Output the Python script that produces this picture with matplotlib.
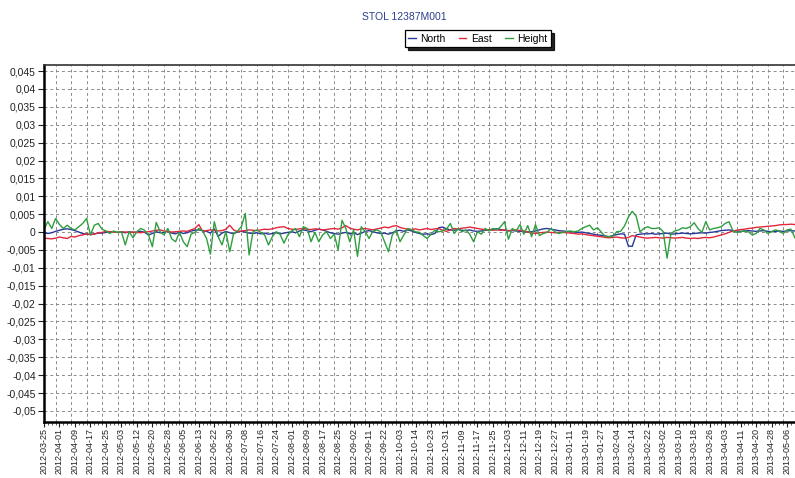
import numpy as np
import matplotlib
matplotlib.use("Agg")
import matplotlib.pyplot as plt
from matplotlib.ticker import FixedLocator, FixedFormatter, MultipleLocator, NullFormatter

# ---------------- data ----------------
title = "STOL 12387M001"
series_names = ["North", "East", "Height"]

date_labels = [
    "2012-03-25", "2012-04-01", "2012-04-09", "2012-04-17", "2012-04-25",
    "2012-05-03", "2012-05-12", "2012-05-20", "2012-05-28", "2012-06-05",
    "2012-06-13", "2012-06-22", "2012-06-30", "2012-07-08", "2012-07-16",
    "2012-07-24", "2012-08-01", "2012-08-09", "2012-08-17", "2012-08-25",
    "2012-09-02", "2012-09-11", "2012-09-22", "2012-10-03", "2012-10-14",
    "2012-10-23", "2012-10-31", "2012-11-09", "2012-11-17", "2012-11-25",
    "2012-12-03", "2012-12-11", "2012-12-19", "2012-12-27", "2013-01-11",
    "2013-01-19", "2013-01-27", "2013-02-04", "2013-02-14", "2013-02-22",
    "2013-03-02", "2013-03-10", "2013-03-18", "2013-03-26", "2013-04-03",
    "2013-04-11", "2013-04-20", "2013-04-28", "2013-05-06",
]

# values in millimetres (converted to metres below), one value every 2 categories
north_mm = [
    -0.2, -0.4, -0.2, 0.2, 0.5, 0.8, 0.9, 0.7, 0.4, 0.0, -0.4, -0.6, -0.7, -0.5, -0.3, -0.3,
    -0.1, 0.0, 0.1, -0.1, 0.0, -0.2, 0.1, -0.1, 0.0, 0.2, -0.1, -0.8, -0.4, 0.1, -0.2, -0.1,
    0.2, -0.3, -0.5, 0.0, -0.4, -0.2, 0.3, 0.5, 0.6, 0.4, 0.2, -0.3, 0.9, -1.2, -0.3, 0.2,
    -0.2, -0.5, 0.1,
    0.2, 0.0, -0.3, -0.4, -0.2, -0.5, -0.3, -0.6, -0.4, -0.2, -0.5, -0.3, -0.1, 0.1, -0.2,
    0.3, 0.6, 0.4, 0.1, 0.5, 0.8, 0.6, 0.2, -0.2, -0.4, -0.6, -0.3, -0.1, -0.5, -0.2, -0.7,
    -0.3, 0.2, 0.4, 0.1, -0.2, -0.4, -0.3, -0.6, -0.2, 0.3, 0.5, 0.2, 0.6, 0.3, -0.1, -0.4,
    -0.6, -0.5, -0.7, -0.4,
    1.2, 1.4, 0.9, 0.6, 0.5, 0.7, 0.5, 0.4, 0.6, 0.3, 0.2, 0.3, 0.5, 0.6, 0.8, 0.9, 0.7,
    0.5, 0.3, 0.4, 0.3, 0.2, 0.1, 0.0, 0.1, 0.3, 0.6, 0.9, 1.0, 0.8, 0.6, 0.4, 0.3, 0.2,
    0.1, 0.0, -0.1, 0.0, -0.2, -0.4, -0.6, -0.8, -0.9, -1.1, -1.3, -1.0, -0.7, -0.5, -0.6,
    -3.9,
    -4.0, -0.8, -0.6, -0.5, -0.5, -0.4, -0.6, -0.5, -0.4, -0.3, -0.6, -0.5, -0.4, -0.3,
    -0.4, -0.5, -0.4, -0.3, -0.2, -0.3, -0.1, 0.0, 0.2, 0.4, 0.5, 0.6, 0.4, 0.3, 0.2, 0.3,
    0.4, 0.3, 0.2, 0.3, 0.4, 0.2, 0.1, 0.2, 0.3, 0.2, 0.3, 0.4, 0.3, 0.2,
]

east_mm = [
    -1.7, -1.8, -1.9, -1.7, -1.4, -1.6, -1.8, -1.2, -1.4, -1.0, -0.8, -0.5, -0.7, -0.6,
    -0.2, -0.1, 0.2, 0.1, 0.0, -0.1, 0.1, 0.0, -0.1, 0.0, -0.1, -0.2, 0.0, 0.1, 0.3, 0.5,
    0.6, 0.3, 0.2, 0.0, 0.1, 0.2, 0.3, 0.2, 0.6, 1.0, 2.1, 0.2, 0.4, 0.6, 0.5, 0.3, 0.4,
    0.8, 1.9, 0.6, 0.1,
    0.3, 0.4, 0.6, 0.5, 0.4, 0.6, 0.8, 0.7, 0.9, 1.2, 1.4, 1.5, 1.0, 0.8, 0.7, 0.9, 1.0,
    0.8, 0.7, 0.9, 0.8, 0.6, 0.7, 0.9, 1.0, 0.8, 1.2, 1.8, 1.1, 0.8, 0.6, 0.9, 1.0, 0.8,
    0.6, 0.9, 1.1, 1.4, 1.2, 1.6, 1.8, 1.3, 1.0, 0.8, 0.7, 0.9, 0.6, 0.8, 1.0, 0.7, 0.9,
    1.0, 0.5, 0.2, 0.6, 1.0, 0.8, 1.1, 1.2, 1.4, 1.2, 1.0, 0.8, 0.7, 0.6, 0.5, 0.6, 0.5,
    0.6, 0.4, 0.5, 0.6, 0.4, 0.3, 0.0, -0.3, -0.4, -0.2, -0.1, 0.0, -0.1, -0.2, -0.1,
    -0.1, -0.2, -0.3, -0.4, -0.6, -0.5, -0.7, -0.9, -1.0, -1.2, -1.3, -1.5, -1.6, -1.5,
    -1.4, -1.6, -1.7, -1.5,
    -1.0, -1.2, -1.4, -1.6, -1.7, -1.6, -1.5, -1.6, -1.7, -1.5, -1.6, -1.7, -1.6, -1.5,
    -1.7, -1.8, -1.7, -1.8, -1.6, -1.5, -1.6, -1.4, -1.1, -0.8, -0.5, -0.1, 0.3, 0.5, 0.7,
    0.8, 1.0, 1.1, 1.3, 1.4, 1.5, 1.6, 1.7, 1.8, 2.0, 2.1, 2.1, 2.2, 2.1, 2.2,
]

height_mm = [
    0.8, 2.9, 1.0, 3.8, 2.1, 1.0, 1.9, 1.0, 0.6, 1.5, 2.4, 3.8, -0.8, 1.9, 2.4, 0.8, 0.3,
    -0.4, 0.3, -0.1, 0.1, -3.6, 0.1, -1.6, 0.1, 1.0, 0.5, -0.8, -4.1, 2.7, 0.1, -0.8, 1.0,
    -1.9, -2.7, -0.1, -2.7, -4.1, -0.6, -0.1, 1.0, 0.3, -1.8, -6.2, 2.9, -1.3, -3.6, 0.1,
    -5.5, -0.4, 0.3,
    1.5, 5.2, -6.4, 0.1, 0.6, -0.1, -0.8, -3.6, -1.3, 0.1, -0.6, -3.1, -0.8, 0.3, 1.0,
    -1.3, 1.5, 1.0, -2.7, -0.1, -2.7, -0.8, 0.1, -1.8, -0.6, -5.0, 3.3, 1.0, -2.7, 0.6,
    -6.8, 1.5, 0.1, -1.8, 0.3, 0.6, 0.1, -2.7, -5.5, -0.8, 0.6, -2.7, -0.8, 1.0, 0.6, 0.1,
    -0.1, -1.0, -1.8, -0.6, 0.5,
    0.1, 0.3, 0.8, 2.4, -0.4, 1.0, 0.1, 0.6, -0.6, -2.7, 0.1, -0.6, 1.0, 0.3, 1.0, 0.6,
    1.5, 2.9, -2.0, 1.0, 0.3, 2.1, -0.6, 1.8, -1.3, 2.1, -1.0, -0.4, -0.1, 1.0, 0.1, -0.4,
    -0.1, 0.1, 0.3, 0.1, 0.3, 1.0, 1.5, 1.9, 0.6, 1.2, 0.0, -1.2, -1.3, -1.2, 0.1, 0.2,
    1.7, 4.2,
    5.8, 4.5, 0.1, 1.0, 1.5, 1.0, 1.0, 1.2, 0.1, -7.3, -0.4, 0.3, 0.6, 1.2, 1.0, 1.5, 2.6,
    1.0, -0.1, 2.9, 0.6, 1.0, 1.2, 1.5, 2.4, 2.9, 0.4, -0.1, 0.1, 0.3, 0.1, -0.8, -0.4,
    1.0, 0.6, -0.4, 0.1, 0.6, 0.3, -0.4, 0.6, 0.8, -1.5, -3.2,
]

sample_step = 2      # categories between two stored values
label_every = 8      # categories between two date labels
y_tick_values = [round(-0.05 + 0.005 * k, 3) for k in range(20)]

colors = {"North": "#26399a", "East": "#e2283c", "Height": "#2f9e3f"}

# ---------------- figure ----------------
plt.rcParams["font.family"] = ["Liberation Sans", "DejaVu Sans"]
narrow = ["Liberation Sans Narrow", "Liberation Sans", "DejaVu Sans"]

W, H = 795, 478
fig = plt.figure(figsize=(W / 100, H / 100), dpi=100)
px_per_cat = 1.935
x_max = 400
ax = fig.add_axes([44 / W, 56 / H, x_max * px_per_cat / W, 357 / H])

for name, vals in zip(series_names, [north_mm, east_mm, height_mm]):
    v = np.asarray(vals) / 1000.0
    x = np.arange(len(v)) * sample_step
    ax.plot(x, v, color=colors[name], lw=1.0, label=name, solid_joinstyle="round")

ax.set_xlim(0, x_max)
ax.set_ylim(-0.0531, 0.0467)

# y axis
ax.yaxis.set_major_locator(FixedLocator(y_tick_values))
def fmt(v):
    if abs(v) < 1e-12:
        return "0"
    s = f"{v:.3f}".rstrip("0").rstrip(".")
    return s.replace(".", ",")
ax.set_yticklabels([fmt(v) for v in y_tick_values])
ax.tick_params(axis="y", which="major", labelsize=7.5, length=4, width=0.8, pad=2, colors="#222222")
ax.yaxis.grid(True, color="#8a8a8a", linestyle=(0, (3, 3)), linewidth=0.7)

# x axis: labels at every 8th category, grid / major marks 6 categories later
label_pos = [k * label_every for k in range(len(date_labels))]
grid_shift = 6
grid_pos = [p + grid_shift for p in label_pos]
ax.xaxis.set_major_locator(FixedLocator(label_pos))
ax.xaxis.set_major_formatter(FixedFormatter(date_labels))
ax.xaxis.set_minor_locator(MultipleLocator(sample_step))
ax.xaxis.set_minor_formatter(NullFormatter())
ax.tick_params(axis="x", which="major", labelsize=6.5, labelrotation=90, length=3.5,
               width=0.8, pad=1, colors="#222222")
ax.tick_params(axis="x", which="minor", length=2.5, width=0.6, color="#444444")

for p in grid_pos:
    ax.axvline(p, color="#8a8a8a", linestyle=(0, (3, 3)), linewidth=0.7, zorder=0.5)
ax.set_axisbelow(True)

for side in ["left", "bottom"]:
    ax.spines[side].set_linewidth(1.8)
    ax.spines[side].set_color("black")
ax.spines["top"].set_linewidth(1.2)
ax.spines["top"].set_color("#333333")

# title and legend
fig.text(404 / W, 1 - 17 / H, title, ha="center", va="center",
         color="#2b3f8c", fontsize=7.5, family=narrow)

leg = fig.legend(loc="center", bbox_to_anchor=(478 / W, 1 - 38.5 / H), ncol=3,
                 frameon=True, fancybox=False, shadow={"color": "black", "alpha": 0.85},
                 handlelength=0.7, handletextpad=0.45, columnspacing=1.3,
                 borderpad=0.35, prop={"family": narrow, "size": 7.5})
leg.get_frame().set_edgecolor("black")
leg.get_frame().set_linewidth(0.9)

fig.savefig("out.png", dpi=100)
